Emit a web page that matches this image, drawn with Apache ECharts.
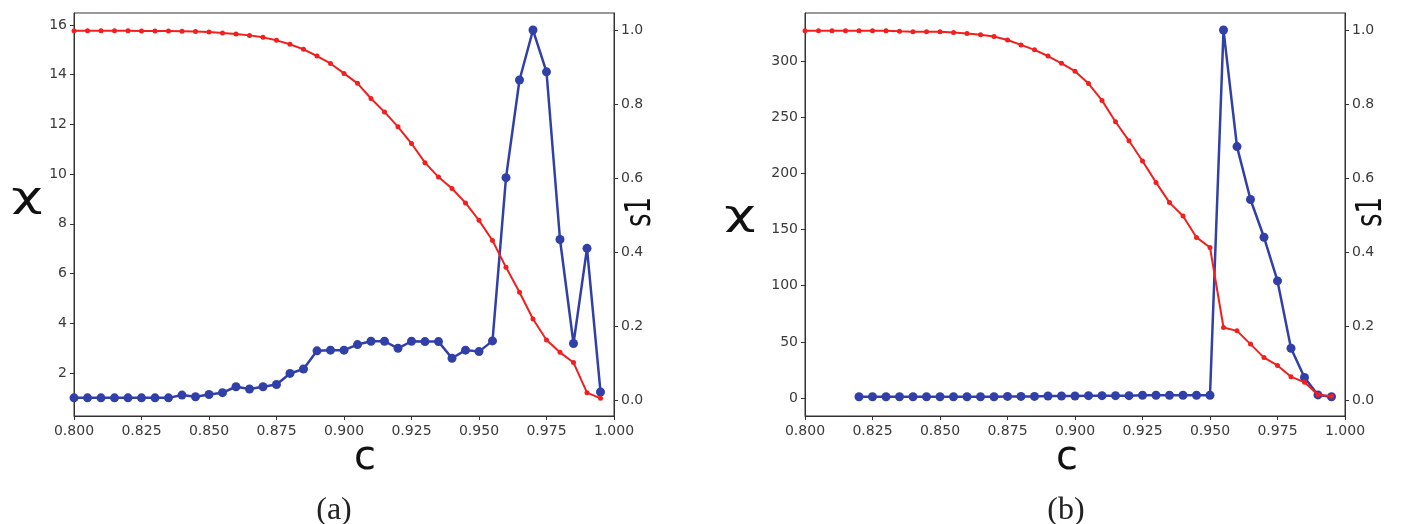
<!DOCTYPE html>
<html>
<head>
<meta charset="utf-8">
<script src="https://cdn.jsdelivr.net/npm/echarts@6/dist/echarts.min.js"></script>
<style>
  html, body { margin: 0; padding: 0; background: #fff; }
  #main { width: 1404px; height: 524px; }
</style>
</head>
<body>
<div id="main"></div>
<script>
// c values (shared by both panels)
var cValues = [0.800, 0.805, 0.810, 0.815, 0.820, 0.825, 0.830, 0.835, 0.840, 0.845,
               0.850, 0.855, 0.860, 0.865, 0.870, 0.875, 0.880, 0.885, 0.890, 0.895,
               0.900, 0.905, 0.910, 0.915, 0.920, 0.925, 0.930, 0.935, 0.940, 0.945,
               0.950, 0.955, 0.960, 0.965, 0.970, 0.975, 0.980, 0.985, 0.990, 0.995];

// panel (a)
var chiA = [15.77, 15.77, 15.77, 15.77, 15.77, 15.76, 15.76, 15.76, 15.75, 15.74,
            15.72, 15.68, 15.64, 15.58, 15.50, 15.38, 15.22, 15.02, 14.75, 14.45,
            14.05, 13.65, 13.04, 12.50, 11.90, 11.23, 10.46, 9.88, 9.42, 8.84,
            8.14, 7.33, 6.25, 5.25, 4.17, 3.33, 2.83, 2.42, 1.21, 0.98];
var s1A = [0.006, 0.006, 0.006, 0.006, 0.006, 0.006, 0.006, 0.006, 0.0135, 0.009,
           0.015, 0.020, 0.036, 0.030, 0.036, 0.042, 0.072, 0.084, 0.133, 0.135,
           0.135, 0.150, 0.159, 0.159, 0.140, 0.159, 0.158, 0.158, 0.113, 0.135,
           0.131, 0.160, 0.601, 0.865, 1.000, 0.887, 0.434, 0.153, 0.410, 0.022];

// panel (b)
var chiB = [327.1, 327.1, 327.1, 327.1, 327.1, 327.1, 327.0, 326.5, 326.2, 326.2,
            326.0, 325.5, 324.6, 323.5, 321.8, 318.8, 314.4, 310.0, 304.5, 298.0,
            291.0, 280.0, 265.0, 246.0, 229.0, 211.0, 192.0, 174.0, 162.0, 143.0,
            134.0, 62.8, 59.8, 48.0, 36.0, 29.0, 19.0, 14.0, 3.0, 1.5];
var s1B = [null, null, null, null, 0.009, 0.009, 0.009, 0.009, 0.009, 0.009,
           0.009, 0.009, 0.009, 0.009, 0.009, 0.010, 0.010, 0.010, 0.011, 0.011,
           0.011, 0.012, 0.012, 0.012, 0.012, 0.013, 0.013, 0.013, 0.013, 0.013,
           0.013, 1.000, 0.685, 0.542, 0.440, 0.322, 0.140, 0.061, 0.014, 0.009];

// tick values
var cTicks = [0.800, 0.825, 0.850, 0.875, 0.900, 0.925, 0.950, 0.975, 1.000];
var chiTicksA = [2, 4, 6, 8, 10, 12, 14, 16];
var chiTicksB = [0, 50, 100, 150, 200, 250, 300];
var s1Ticks = [0, 0.2, 0.4, 0.6, 0.8, 1.0];

var RED = '#f21f1f';
var BLUE = '#3040a8';
var AXIS = '#333';

function pairs(ys) {
    return cValues.map(function (c, i) { return [c, ys[i]]; });
}

function xAxisFor(gi) {
    return {
        type: 'value', gridIndex: gi, min: 0.8, max: 1.0,
        axisLine: { show: true, onZero: false, lineStyle: { color: AXIS, width: 1 } },
        axisTick: { show: true, length: 4, customValues: cTicks, lineStyle: { color: AXIS } },
        axisLabel: {
            customValues: cTicks, margin: 8, color: '#3a3a3a',
            fontFamily: 'DejaVu Sans', fontSize: 14,
            formatter: function (v) { return v.toFixed(3); }
        },
        splitLine: { show: false }
    };
}

function yAxisFor(gi, pos, min, max, ticks, fmt) {
    return {
        type: 'value', gridIndex: gi, position: pos, min: min, max: max,
        axisLine: { show: true, onZero: false, lineStyle: { color: AXIS, width: 1 } },
        axisTick: { show: true, length: 4, customValues: ticks, lineStyle: { color: AXIS } },
        axisLabel: {
            customValues: ticks, margin: 7, color: '#3a3a3a',
            fontFamily: 'DejaVu Sans', fontSize: 14,
            formatter: fmt
        },
        splitLine: { show: false }
    };
}

var chart = echarts.init(document.getElementById('main'));
var option = {
    animation: false,
    backgroundColor: '#fff',
    grid: [
        { left: 74, right: 790, top: 13, bottom: 108, show: true, borderColor: AXIS, borderWidth: 1 },
        { left: 805, right: 59, top: 13, bottom: 108, show: true, borderColor: AXIS, borderWidth: 1 }
    ],
    xAxis: [xAxisFor(0), xAxisFor(1)],
    yAxis: [
        yAxisFor(0, 'left', 0.27, 16.48, chiTicksA, function (v) { return String(v); }),
        yAxisFor(0, 'right', -0.043, 1.046, s1Ticks, function (v) { return v.toFixed(1); }),
        yAxisFor(1, 'left', -16, 342.8, chiTicksB, function (v) { return String(v); }),
        yAxisFor(1, 'right', -0.043, 1.046, s1Ticks, function (v) { return v.toFixed(1); })
    ],
    series: [
        {
            name: 's1 (a)', type: 'line', xAxisIndex: 0, yAxisIndex: 1, z: 2,
            data: pairs(s1A), symbol: 'circle', symbolSize: 9,
            lineStyle: { color: BLUE, width: 2.5 }, itemStyle: { color: BLUE }
        },
        {
            name: 'χ (a)', type: 'line', xAxisIndex: 0, yAxisIndex: 0, z: 3,
            data: pairs(chiA), symbol: 'circle', symbolSize: 5,
            lineStyle: { color: RED, width: 2 }, itemStyle: { color: RED }
        },
        {
            name: 's1 (b)', type: 'line', xAxisIndex: 1, yAxisIndex: 3, z: 2,
            data: pairs(s1B), symbol: 'circle', symbolSize: 9,
            lineStyle: { color: BLUE, width: 2.5 }, itemStyle: { color: BLUE }
        },
        {
            name: 'χ (b)', type: 'line', xAxisIndex: 1, yAxisIndex: 2, z: 3,
            data: pairs(chiB), symbol: 'circle', symbolSize: 5,
            lineStyle: { color: RED, width: 2 }, itemStyle: { color: RED }
        }
    ],
    graphic: [
        // axis titles
        { type: 'text', x: 27, y: 198, scaleX: 1.6, style: { text: 'χ', fill: '#111', font: '34px "DejaVu Sans"', align: 'center', verticalAlign: 'middle' } },
        { type: 'text', x: 641, y: 212, rotation: Math.PI / 2, scaleY: 1.35, style: { text: 's1', fill: '#111', font: '26px "DejaVu Sans"', align: 'center', verticalAlign: 'middle' } },
        { type: 'text', x: 365, y: 459, style: { text: 'c', fill: '#111', font: '40px "DejaVu Sans"', align: 'center', verticalAlign: 'middle' } },
        { type: 'text', x: 334, y: 511, style: { text: '(a)', fill: '#222', font: '32px "Liberation Serif"', align: 'center', verticalAlign: 'middle' } },
        { type: 'text', x: 740, y: 216, scaleX: 1.6, style: { text: 'χ', fill: '#111', font: '34px "DejaVu Sans"', align: 'center', verticalAlign: 'middle' } },
        { type: 'text', x: 1372, y: 212, rotation: Math.PI / 2, scaleY: 1.35, style: { text: 's1', fill: '#111', font: '26px "DejaVu Sans"', align: 'center', verticalAlign: 'middle' } },
        { type: 'text', x: 1067, y: 459, style: { text: 'c', fill: '#111', font: '40px "DejaVu Sans"', align: 'center', verticalAlign: 'middle' } },
        { type: 'text', x: 1066, y: 511, style: { text: '(b)', fill: '#222', font: '32px "Liberation Serif"', align: 'center', verticalAlign: 'middle' } }
    ]
};
chart.setOption(option);
</script>
</body>
</html>
